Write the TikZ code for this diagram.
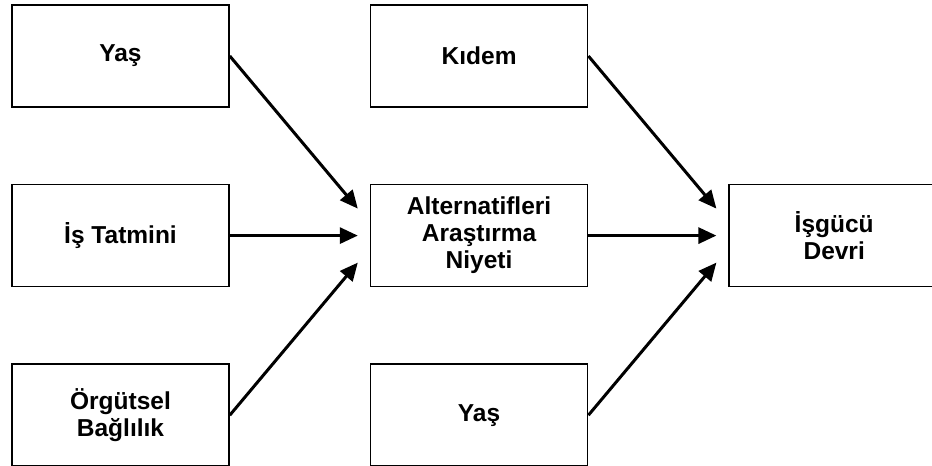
\documentclass[tikz,border=0pt]{standalone}
\usepackage{fontspec}
\setmainfont{Liberation Sans}
\usepackage{tikz}
\usetikzlibrary{positioning,arrows.meta}

\begin{document}
\begin{tikzpicture}[
  x=1pt, y=-1pt,
  node distance=76pt and 140pt,
  box/.style={rectangle, draw, line width=1.6pt, minimum width=217pt, minimum height=102pt,
    inner sep=0pt, align=center, font=\fontsize{24.5}{27}\selectfont\bfseries},
  arr/.style={-{Triangle[length=18pt,width=16pt]}, line width=3pt}
]
\useasboundingbox (0,0) rectangle (932,466);
% input column
\node[box] (yas) at (120.5,56) {Yaş};
\node[box, below=of yas] (tatmin) {İş Tatmini};
\node[box, below=of tatmin] (baglilik) {Örgütsel\\Bağlılık};
% middle column
\node[box, right=of yas] (kidem) {Kıdem};
\node[box, right=of tatmin] (niyet) {Alternatifleri\\Araştırma\\Niyeti};
\node[box, right=of baglilik] (yas2) {Yaş};
% outcome
\node[box, minimum width=210pt, right=of niyet] (devir) {İşgücü\\Devri};
% arrows
\draw[arr] (yas.east) -- ([xshift=-12pt,yshift=27pt]niyet.west);
\draw[arr] (tatmin.east) -- ([xshift=-12pt]niyet.west);
\draw[arr] (baglilik.east) -- ([xshift=-12pt,yshift=-27pt]niyet.west);
\draw[arr] (kidem.east) -- ([xshift=-12pt,yshift=27pt]devir.west);
\draw[arr] (niyet.east) -- ([xshift=-12pt]devir.west);
\draw[arr] (yas2.east) -- ([xshift=-12pt,yshift=-27pt]devir.west);
\end{tikzpicture}
\end{document}
